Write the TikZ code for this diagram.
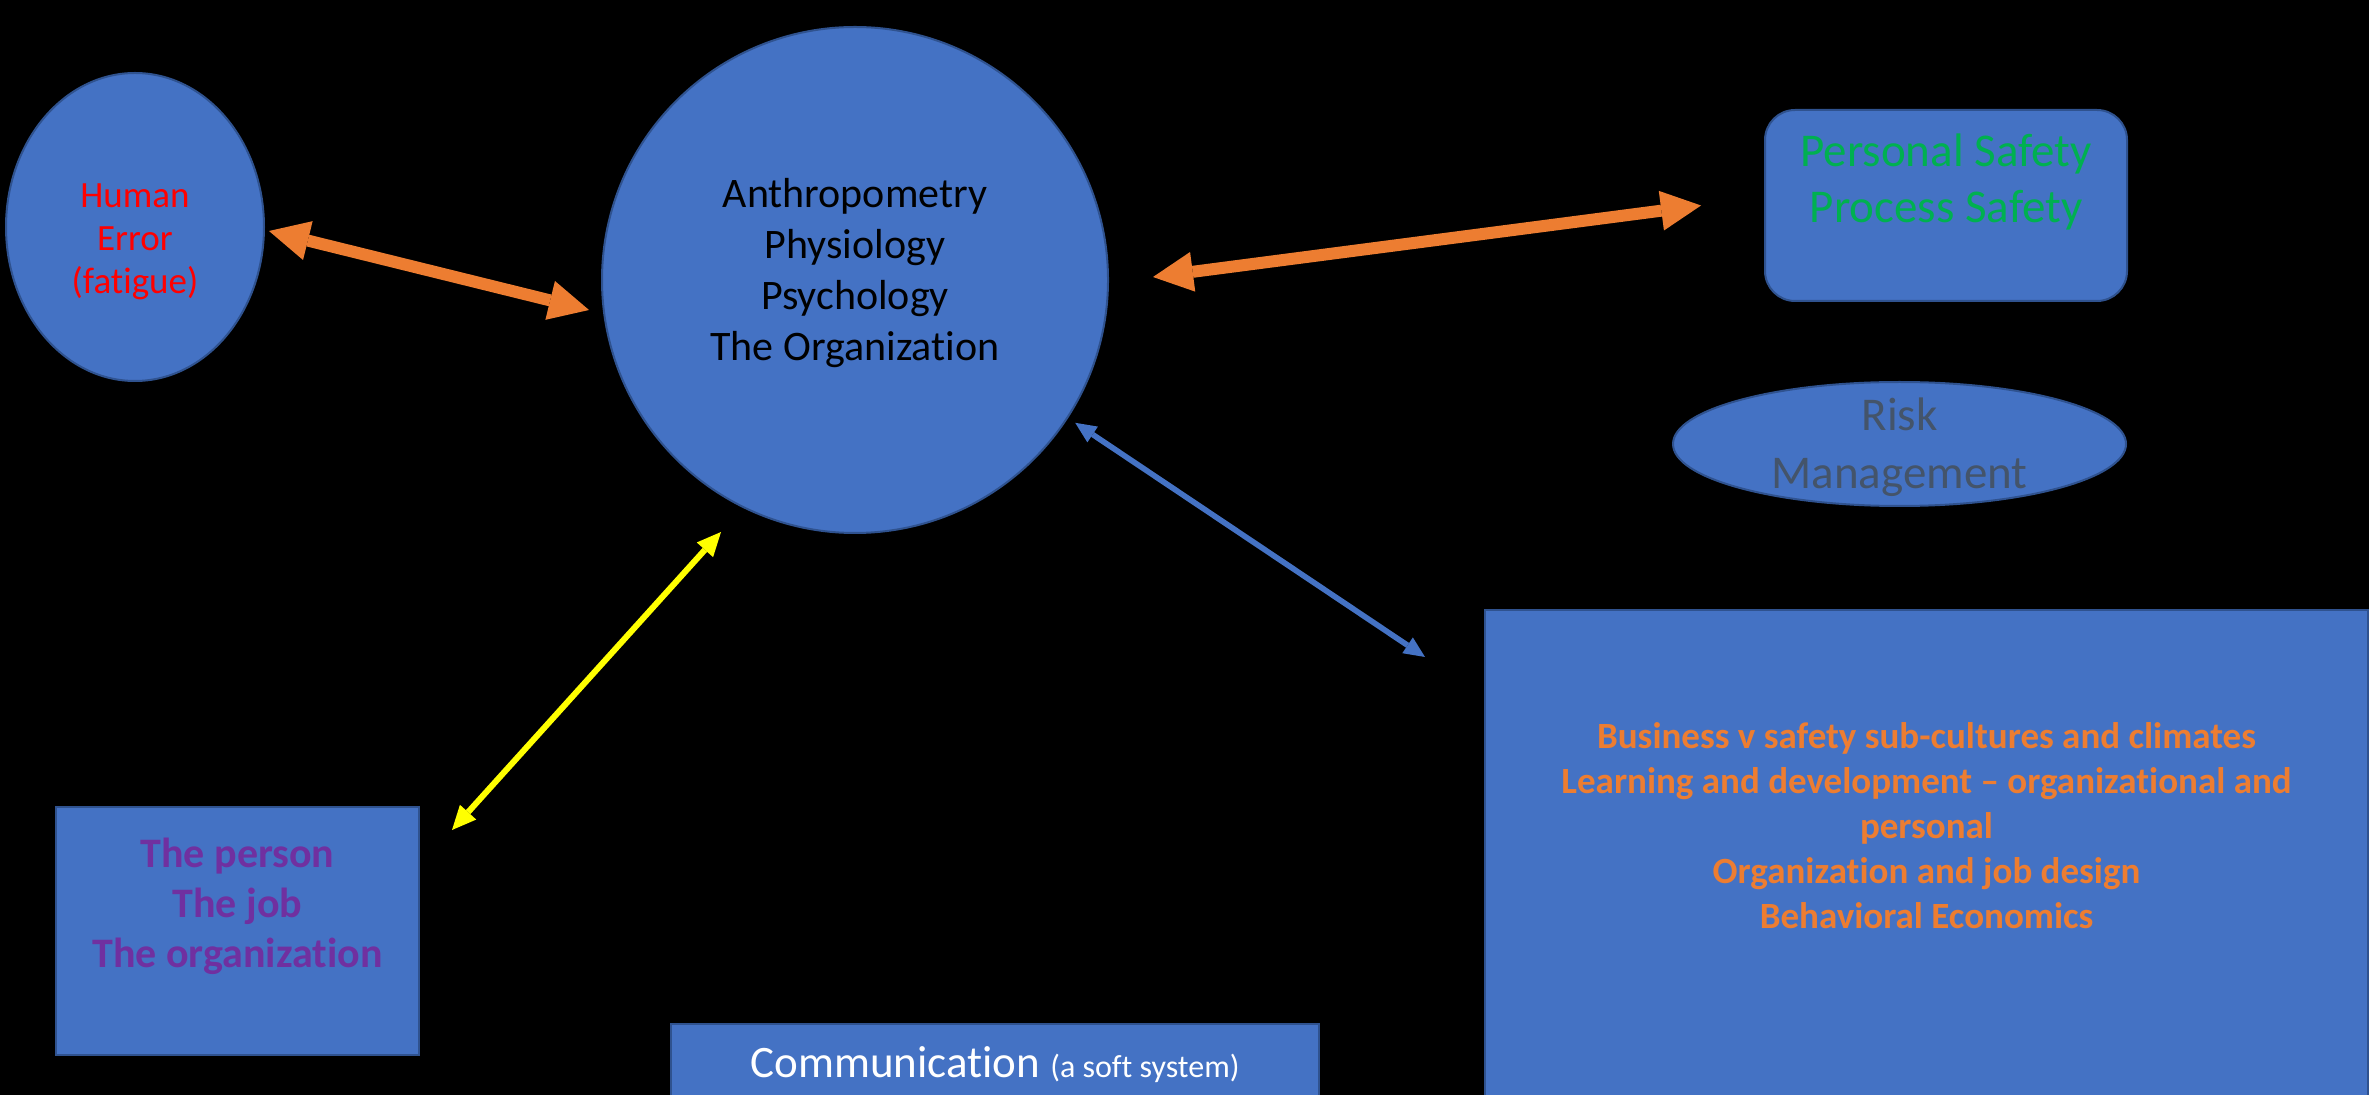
\documentclass[tikz,border=0pt]{standalone}
\usepackage{fontspec}
\setmainfont{Carlito}[Ligatures=NoCommon]
\usetikzlibrary{shapes.geometric,arrows.meta,calc}
\definecolor{nodeblue}{HTML}{4472C4}
\definecolor{nodeborder}{HTML}{2F528F}
\definecolor{arrorange}{HTML}{ED7D31}
\definecolor{txtgreen}{HTML}{00B050}
\definecolor{txtpurple}{HTML}{7030A0}
\definecolor{txtgray}{HTML}{44546A}
\definecolor{txtred}{HTML}{FF0000}
\definecolor{arryellow}{HTML}{FFFF00}
\begin{document}
\begin{tikzpicture}[x=0.5pt,y=-0.5pt,
  shapebase/.style={fill=nodeblue, draw=nodeborder, line width=1pt, inner sep=0pt, outer sep=0pt},
  ell/.style={shapebase, ellipse},
  box/.style={shapebase, rectangle},
  txt/.style={align=center, inner sep=0pt},
  oarr/.style={draw=arrorange, line width=6pt,
    {Triangle[length=20pt,width=20pt,line width=0pt]}-{Triangle[length=20pt,width=20pt,line width=0pt]}},
  yarr/.style={draw=arryellow, line width=3pt,
    {Triangle[length=12pt,width=11pt,line width=0pt]}-{Triangle[length=12pt,width=11pt,line width=0pt]}},
  barr/.style={draw=nodeblue, line width=2.8pt,
    {Triangle[length=10.5pt,width=9.5pt,line width=0pt]}-{Triangle[length=10.5pt,width=9.5pt,line width=0pt]}}
]
\fill[black] (0,0) rectangle (2369,1095);
\clip (0,0) rectangle (2369,1095);

% shapes
\node[ell, minimum width=129pt, minimum height=154pt] (he) at (135,227) {};
\node[shapebase, circle, minimum size=253pt] (big) at (855,280) {};
\node[box, rounded corners=15pt, minimum width=181pt, minimum height=95.5pt] (ps) at (1946,205.5) {};
\node[ell, minimum width=226.5pt, minimum height=62pt] (risk) at (1899.5,444) {};
\node[box, minimum width=441.5pt, minimum height=250pt] (biz) at (1926.5,860) {};
\node[box, minimum width=181.5pt, minimum height=124pt] (person) at (237.5,931) {};
\node[box, minimum width=324pt, minimum height=43pt] (comm) at (995,1067) {};

% texts
\node[txt, text=txtred, font=\fontsize{18.5}{21.5}\selectfont] (hetxt) at ($(he)+(0,15)$) {Human\\Error\\(fatigue)};
\node[txt, text=black, font=\fontsize{21}{25.5}\selectfont] (bigtxt) at ($(big)+(0,-7)$) {Anthropometry\\Physiology\\Psychology\\The Organization};
\node[txt, text=txtgreen, font=\fontsize{23.5}{28}\selectfont] (pstxt) at ($(ps)+(0,-24)$) {Personal Safety\\Process Safety};
\node[txt, text=txtgray, font=\fontsize{23.5}{29}\selectfont] (risktxt) at ($(risk)+(0,3)$) {Risk\\Management};
\node[txt, text=arrorange, font=\bfseries\fontsize{18.5}{22.5}\selectfont] (biztxt) at ($(biz.north)+(0,216)$) {Business v safety sub-cultures and climates\\Learning and development -- organizational and\\personal\\Organization and job design\\Behavioral Economics};
\node[txt, text=txtpurple, font=\bfseries\fontsize{21}{25}\selectfont] (persontxt) at ($(person)+(0,-25)$) {The person\\The job\\The organization};
\node[txt, text=white] (commtxt) at ($(comm.north)+(0,41)$) {{\fontsize{22.5}{27}\selectfont Communication}\hspace{5pt}{\fontsize{16}{19}\selectfont (a soft system)}};

% connectors
\draw[oarr] ($(he.east)+(5,4)$) -- ($(big.west)+(-13,30)$);
\draw[oarr] ($(big.east)+(45,-3)$) -- ($(ps.west)+(-64,0)$);
\draw[yarr] ($(big.south)+(-134,-1)$) -- ($(person.north east)+(33,23)$);
\draw[barr] ($(big.-33)+(8,5)$) -- ($(biz.north west)+(-60,47)$);
\end{tikzpicture}
\end{document}
